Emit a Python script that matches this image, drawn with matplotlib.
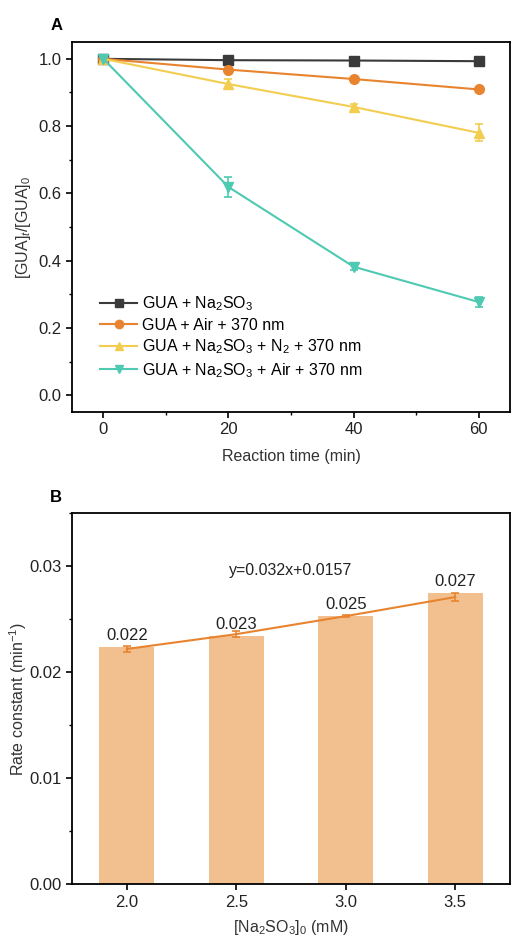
import numpy as np
import matplotlib
matplotlib.use("Agg")
import matplotlib.pyplot as plt
from matplotlib.ticker import MultipleLocator
from matplotlib.lines import Line2D

plt.rcParams['font.family'] = ['Liberation Sans', 'DejaVu Sans']
plt.rcParams['mathtext.fontset'] = 'custom'
plt.rcParams['mathtext.rm'] = 'Liberation Sans'
plt.rcParams['mathtext.it'] = 'Liberation Sans:italic'
plt.rcParams['font.size'] = 12

# ---------------- Panel A data ----------------
time_min = [0, 20, 40, 60]
series_labels = ['GUA + Na$_2$SO$_3$',
                 'GUA + Air + 370 nm',
                 'GUA + Na$_2$SO$_3$ + N$_2$ + 370 nm',
                 'GUA + Na$_2$SO$_3$ + Air + 370 nm']
gua_na2so3 = [1.0, 0.996, 0.995, 0.993]
gua_air = [1.0, 0.968, 0.940, 0.909]
gua_na2so3_n2 = [1.0, 0.925, 0.857, 0.780]
gua_na2so3_air = [1.0, 0.619, 0.382, 0.277]
err_na2so3 = [0.003, 0.003, 0.003, 0.004]
err_air = [0.003, 0.004, 0.004, 0.005]
err_n2 = [0.005, 0.015, 0.010, 0.025]
err_na2so3_air = [0.005, 0.030, 0.010, 0.015]

# ---------------- Panel B data ----------------
na2so3_conc = [2.0, 2.5, 3.0, 3.5]
rate_bar = [0.0224, 0.0234, 0.0253, 0.0275]
rate_mean = [0.0222, 0.0236, 0.0253, 0.0271]
rate_err = [0.0003, 0.0003, 0.0001, 0.0004]
rate_labels = ['0.022', '0.023', '0.025', '0.027']
fit_text = 'y=0.032x+0.0157'

colors = ['#3a3a3a', '#e8842f', '#f2cd50', '#4ec9b2']
markers = ['s', 'o', '^', 'v']
text_col = '#222222'

fig = plt.figure(figsize=(5.11, 9.40), dpi=100)

# ---- Panel A ----
axA = fig.add_axes([0.141, 0.5617, 0.857, 0.3936])
all_y = [gua_na2so3, gua_air, gua_na2so3_n2, gua_na2so3_air]
all_e = [err_na2so3, err_air, err_n2, err_na2so3_air]
handles = []
for y, e, c, m, lab in zip(all_y, all_e, colors, markers, series_labels):
    axA.errorbar(time_min, y, yerr=e, color=c, marker=m, markersize=7,
                 linewidth=1.5, capsize=3, elinewidth=1.2, capthick=1.2)
    handles.append(Line2D([], [], color=c, marker=m, markersize=6,
                          linewidth=1.5, label=lab))
axA.set_xlim(-5, 65)
axA.set_ylim(-0.05, 1.05)
axA.xaxis.set_major_locator(MultipleLocator(20))
axA.xaxis.set_minor_locator(MultipleLocator(10))
axA.yaxis.set_major_locator(MultipleLocator(0.2))
axA.yaxis.set_minor_locator(MultipleLocator(0.1))
axA.yaxis.set_major_formatter(plt.FormatStrFormatter('%.1f'))
axA.set_xlabel('Reaction time (min)', fontsize=11.5, color='#333333', labelpad=8)
axA.set_ylabel('[GUA]$_t$/[GUA]$_0$', fontsize=11.5, color='#333333')
axA.legend(handles=handles, loc='lower left', bbox_to_anchor=(0.05, 0.07),
           frameon=False, fontsize=11.5, handlelength=2.3, handletextpad=0.3,
           labelspacing=0.3, borderaxespad=0)
fig.text(0.11, 0.973, 'A', fontsize=12, fontweight='bold', va='center', ha='center')

# ---- Panel B ----
axB = fig.add_axes([0.141, 0.0593, 0.857, 0.3946])
axB.bar(na2so3_conc, rate_bar, width=0.25, color='#f2bf8f')
axB.errorbar(na2so3_conc, rate_mean, yerr=rate_err, color='#e8842f',
             linewidth=1.5, capsize=3, elinewidth=1.2, capthick=1.2)
for xv, yv, lab in zip(na2so3_conc, rate_bar, rate_labels):
    axB.annotate(lab, (xv, yv), xytext=(0, 3), textcoords='offset points',
                 ha='center', va='bottom', fontsize=12, color=text_col)
axB.text(2.75, 0.0296, fit_text, ha='center', va='center', fontsize=11.5,
         color=text_col)
axB.set_xlim(1.75, 3.75)
axB.set_ylim(0, 0.035)
axB.set_xticks(na2so3_conc)
axB.xaxis.set_major_formatter(plt.FormatStrFormatter('%.1f'))
axB.yaxis.set_major_locator(MultipleLocator(0.01))
axB.yaxis.set_minor_locator(MultipleLocator(0.005))
axB.set_yticks([0, 0.01, 0.02, 0.03])
axB.set_yticklabels(['0.00', '0.01', '0.02', '0.03'])
axB.set_xlabel('[Na$_2$SO$_3$]$_0$ (mM)', fontsize=11.5, color='#333333', labelpad=6)
axB.set_ylabel('Rate constant (min$^{-1}$)', fontsize=11.5, color='#333333', labelpad=0)
fig.text(0.11, 0.471, 'B', fontsize=12, fontweight='bold', va='center', ha='center')

for ax in (axA, axB):
    for s in ax.spines.values():
        s.set_linewidth(1.3)
    ax.tick_params(which='major', direction='out', length=4, width=1.2,
                   labelsize=12, labelcolor=text_col)
    ax.tick_params(which='minor', direction='out', length=2.5, width=1.0)

fig.savefig('out.png', dpi=100)
